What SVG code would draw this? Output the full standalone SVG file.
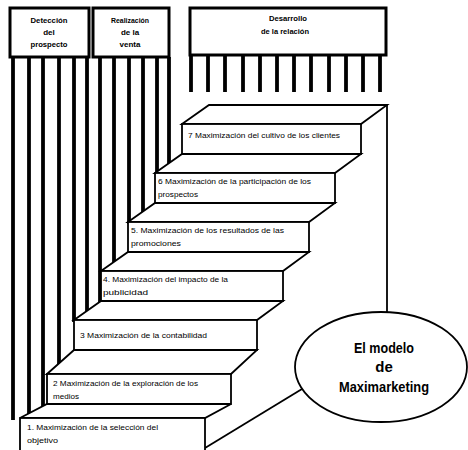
<svg xmlns="http://www.w3.org/2000/svg" width="468" height="450" viewBox="0 0 468 450">
  <style>
    .box { fill: #fff; stroke: #000; stroke-width: 3; }
    .comb line { stroke: #000; stroke-width: 3.8; }
    .stair { fill: #fff; stroke: #000; stroke-width: 1.8; stroke-linejoin: miter; }
    .edge { fill: none; stroke: #000; stroke-width: 1.8; }
    text { font-family: "Liberation Sans", Arial, sans-serif; fill: #000; }
    .lbl { font-size: 8px; }
    .hdr { font-size: 8px; font-weight: bold; text-anchor: middle; }
    .title { font-size: 15px; font-weight: bold; text-anchor: middle; }
  </style>
  <rect width="468" height="450" fill="#fff"/>

  <!-- connectors: comb lines hanging from the stage headers, wall and floor edges -->
  <g id="connectors">
    <g class="comb">
      <line x1="13" y1="57" x2="13" y2="420"/>
      <line x1="29" y1="57" x2="29" y2="415"/>
      <line x1="43" y1="57" x2="43" y2="408"/>
      <line x1="59" y1="57" x2="59" y2="366"/>
      <line x1="74" y1="57" x2="74" y2="322"/>
      <line x1="87" y1="57" x2="87" y2="313"/>
      <line x1="100" y1="57" x2="100" y2="304"/>
      <line x1="114" y1="57" x2="114" y2="264"/>
      <line x1="129" y1="57" x2="129" y2="224"/>
      <line x1="143" y1="57" x2="143" y2="214"/>
      <line x1="157" y1="57" x2="157" y2="174"/>
      <line x1="169" y1="57" x2="169" y2="166"/>
      <line x1="191" y1="55" x2="191" y2="92"/>
      <line x1="208" y1="55" x2="208" y2="92"/>
      <line x1="225" y1="55" x2="225" y2="92"/>
      <line x1="243" y1="55" x2="243" y2="92"/>
      <line x1="260" y1="55" x2="260" y2="92"/>
      <line x1="277" y1="55" x2="277" y2="92"/>
      <line x1="294" y1="55" x2="294" y2="92"/>
      <line x1="311" y1="55" x2="311" y2="92"/>
      <line x1="329" y1="55" x2="329" y2="92"/>
      <line x1="346" y1="55" x2="346" y2="92"/>
      <line x1="363" y1="55" x2="363" y2="92"/>
      <line x1="380" y1="55" x2="380" y2="92"/>
    </g>
    <line class="edge" x1="387" y1="105" x2="387" y2="315"/>
    <line class="edge" x1="205" y1="448" x2="302" y2="389"/>
  </g>

  <!-- stage headers -->
  <g id="stage-deteccion">
    <rect class="box" x="10" y="8" width="79" height="49"/>
    <text class="hdr" x="49" y="23" textLength="37" lengthAdjust="spacingAndGlyphs">Detección</text>
    <text class="hdr" x="49" y="35">del</text>
    <text class="hdr" x="49" y="47" textLength="37" lengthAdjust="spacingAndGlyphs">prospecto</text>
  </g>
  <g id="stage-realizacion">
    <rect class="box" x="93" y="8" width="76" height="49"/>
    <text class="hdr" x="130" y="23" textLength="38" lengthAdjust="spacingAndGlyphs">Realización</text>
    <text class="hdr" x="130" y="35">de la</text>
    <text class="hdr" x="130" y="47">venta</text>
  </g>
  <g id="stage-desarrollo">
    <rect class="box" x="190" y="8" width="196" height="47"/>
    <text class="hdr" x="288" y="21" textLength="38" lengthAdjust="spacingAndGlyphs">Desarrollo</text>
    <text class="hdr" x="285" y="34" textLength="48" lengthAdjust="spacingAndGlyphs">de la relación</text>
  </g>

  <!-- staircase: each step = top tread + front riser with its label -->
  <g id="step-7">
    <polygon class="stair" points="182,124 209,105 387,105 361,124"/>
    <rect class="stair" x="182" y="124" width="179" height="30"/>
    <text class="lbl" x="188" y="138" textLength="152" lengthAdjust="spacingAndGlyphs">7  Maximización del cultivo de los clientes</text>
  </g>
  <g id="step-6">
    <polygon class="stair" points="155,173 182,154 361,154 335,173"/>
    <rect class="stair" x="155" y="173" width="180" height="30"/>
    <text class="lbl" x="158" y="184" textLength="153" lengthAdjust="spacingAndGlyphs">6  Maximización de la participación de los</text>
    <text class="lbl" x="158" y="197" textLength="40" lengthAdjust="spacingAndGlyphs">prospectos</text>
  </g>
  <g id="step-5">
    <polygon class="stair" points="128,222 155,203 335,203 309,222"/>
    <rect class="stair" x="128" y="222" width="181" height="30"/>
    <text class="lbl" x="131" y="233" textLength="153" lengthAdjust="spacingAndGlyphs">5. Maximización de los resultados de las</text>
    <text class="lbl" x="131" y="246" textLength="50" lengthAdjust="spacingAndGlyphs">promociones</text>
  </g>
  <g id="step-4">
    <polygon class="stair" points="101,271 128,252 309,252 283,271"/>
    <rect class="stair" x="101" y="271" width="182" height="30"/>
    <text class="lbl" x="103" y="282" textLength="125" lengthAdjust="spacingAndGlyphs">4. Maximización del impacto de la</text>
    <text class="lbl" x="103" y="295" textLength="45" lengthAdjust="spacingAndGlyphs">publicidad</text>
  </g>
  <g id="step-3">
    <polygon class="stair" points="74,320 101,301 283,301 257,320"/>
    <rect class="stair" x="74" y="320" width="183" height="30"/>
    <text class="lbl" x="80" y="338" textLength="127" lengthAdjust="spacingAndGlyphs">3  Maximización de la contabilidad</text>
  </g>
  <g id="step-2">
    <polygon class="stair" points="47,374 74,350 257,350 231,374"/>
    <rect class="stair" x="47" y="374" width="184" height="30"/>
    <text class="lbl" x="53" y="386" textLength="145" lengthAdjust="spacingAndGlyphs">2  Maximización de la  exploración de los</text>
    <text class="lbl" x="53" y="399" textLength="26" lengthAdjust="spacingAndGlyphs">medios</text>
  </g>
  <g id="step-1">
    <polygon class="stair" points="20,418 47,404 231,404 205,418"/>
    <rect class="stair" x="20" y="418" width="185" height="36"/>
    <text class="lbl" x="27" y="430" textLength="131" lengthAdjust="spacingAndGlyphs">1. Maximización de la  selección del</text>
    <text class="lbl" x="27" y="443" textLength="31" lengthAdjust="spacingAndGlyphs">objetivo</text>
  </g>

  <!-- model title -->
  <g id="model-title">
    <ellipse cx="381" cy="367" rx="86" ry="55" fill="#fff" stroke="#000" stroke-width="1.8"/>
    <text class="title" x="384" y="353" textLength="60" lengthAdjust="spacingAndGlyphs">El modelo</text>
    <text class="title" x="384" y="372">de</text>
    <text class="title" x="384" y="392" textLength="90" lengthAdjust="spacingAndGlyphs">Maximarketing</text>
  </g>
</svg>
